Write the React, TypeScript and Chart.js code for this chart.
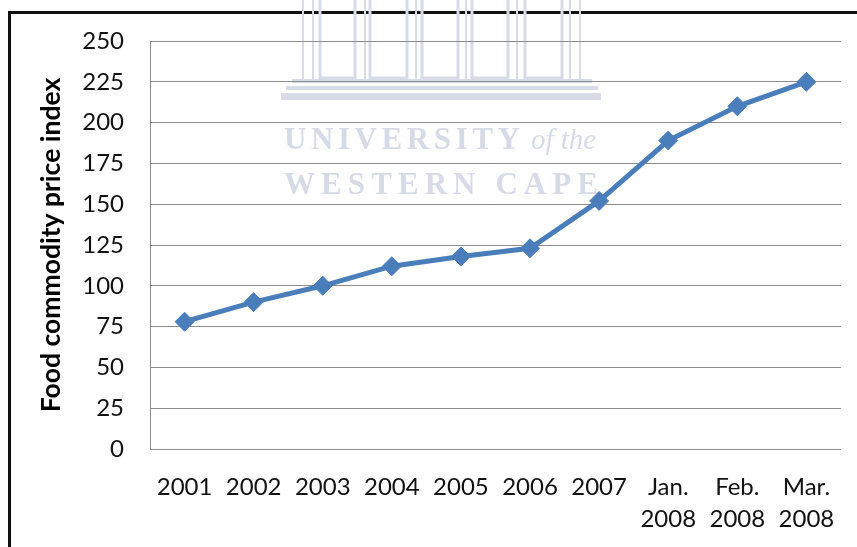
import React, { useEffect, useRef } from "react";
import { Chart, registerables } from "chart.js";

Chart.register(...registerables);

const categories: (string | string[])[] = [
  "2001", "2002", "2003", "2004", "2005", "2006", "2007",
  ["Jan.", "2008"], ["Feb.", "2008"], ["Mar.", "2008"],
];
const priceIndex = [78, 90, 100, 112, 118, 123, 152, 189, 210, 225];
const yTitle = "Food commodity price index";
const yMin = 0;
const yMax = 250;
const yStep = 25;
const watermarkLine1 = "UNIVERSITY";
const watermarkLine1b = "of the";
const watermarkLine2 = "WESTERN CAPE";

const WM = "#d7dbe8";

function drawSpread(ctx: CanvasRenderingContext2D, text: string, x0: number, x1: number, y: number) {
  const chars = text.split("");
  const widths = chars.map((c) => ctx.measureText(c).width);
  const total = widths.reduce((a, b) => a + b, 0);
  const gap = chars.length > 1 ? (x1 - x0 - total) / (chars.length - 1) : 0;
  let x = x0;
  ctx.textAlign = "left";
  chars.forEach((c, i) => {
    ctx.fillText(c, x, y);
    x += widths[i] + gap;
  });
}

const watermarkPlugin = {
  id: "watermark",
  beforeDraw(chart: any) {
    const ctx = chart.ctx as CanvasRenderingContext2D;
    ctx.save();
    ctx.strokeStyle = WM;
    ctx.lineWidth = 3;
    const bays = [[320, 355], [370, 407], [422, 458], [472, 508], [525, 562]];
    bays.forEach(([a, b]) => {
      ctx.strokeRect(a, -10, b - a, 88);
    });
    ctx.lineWidth = 2;
    [303, 313, 365, 416, 466, 517, 570, 580].forEach((x) => {
      ctx.beginPath();
      ctx.moveTo(x, 0);
      ctx.lineTo(x, 80);
      ctx.stroke();
    });
    ctx.fillStyle = WM;
    ctx.fillRect(292, 79, 300, 4);
    ctx.fillRect(286, 86, 312, 4);
    ctx.fillRect(281, 93, 320, 7);
    ctx.textBaseline = "alphabetic";
    ctx.font = "bold 31px 'Liberation Serif', serif";
    drawSpread(ctx, watermarkLine1, 284, 520, 149);
    ctx.font = "italic 29px 'Liberation Serif', serif";
    ctx.textAlign = "left";
    ctx.fillText(watermarkLine1b, 531, 149);
    ctx.font = "bold 31px 'Liberation Serif', serif";
    drawSpread(ctx, watermarkLine2, 284, 598, 194);
    ctx.restore();
  },
};

export default function App() {
  const ref = useRef<HTMLCanvasElement>(null);

  useEffect(() => {
    const canvas = ref.current!;
    const chart = new Chart(canvas, {
      type: "line",
      data: {
        labels: categories,
        datasets: [
          {
            data: priceIndex,
            borderColor: "#4A7EBB",
            backgroundColor: "#4A7EBB",
            borderWidth: 5,
            pointStyle: "rectRot",
            pointRadius: 9.5,
            pointBackgroundColor: "#4A7EBB",
            pointBorderColor: "#4A7EBB",
            pointBorderWidth: 1,
            tension: 0,
            fill: false,
          },
        ],
      },
      options: {
        animation: false,
        responsive: false,
        devicePixelRatio: 1,
        layout: { padding: { left: 0, top: 41, right: 15, bottom: 0 } },
        plugins: {
          legend: { display: false },
          tooltip: { enabled: false },
        },
        scales: {
          x: {
            offset: true,
            grid: { display: false, drawTicks: false },
            border: { display: true, color: "#8c8c8c", width: 1 },
            ticks: {
              color: "#111",
              font: { family: "Lato", size: 24, lineHeight: 1.35 },
              padding: 22,
              maxRotation: 0,
              autoSkip: false,
            },
            afterFit(scale: any) {
              scale.height = 98;
            },
          },
          y: {
            min: yMin,
            max: yMax,
            grid: { color: "#8c8c8c", lineWidth: 1, drawTicks: false },
            border: { display: true, color: "#8c8c8c", width: 1 },
            ticks: {
              stepSize: yStep,
              color: "#111",
              font: { family: "Lato", size: 24 },
              padding: 26,
            },
            title: {
              display: true,
              text: yTitle,
              color: "#000",
              font: { family: "Lato", size: 26.5, weight: "bold", lineHeight: 1.2 },
              padding: { top: 36, bottom: 0 },
            },
            afterFit(scale: any) {
              scale.width = 150;
            },
          },
        },
      },
      plugins: [watermarkPlugin],
    });
    return () => chart.destroy();
  }, []);

  return (
    <div style={{ position: "fixed", left: 0, top: 0, width: 857, height: 547, background: "#fff", overflow: "hidden" }}>
      <div
        style={{
          position: "absolute",
          left: 8,
          top: 11,
          width: 900,
          height: 600,
          borderLeft: "3px solid #111",
          borderTop: "3px solid #111",
        }}
      />
      <canvas
        ref={ref}
        width={857}
        height={547}
        style={{ position: "absolute", left: 0, top: 0, width: 857, height: 547 }}
      />
    </div>
  );
}
